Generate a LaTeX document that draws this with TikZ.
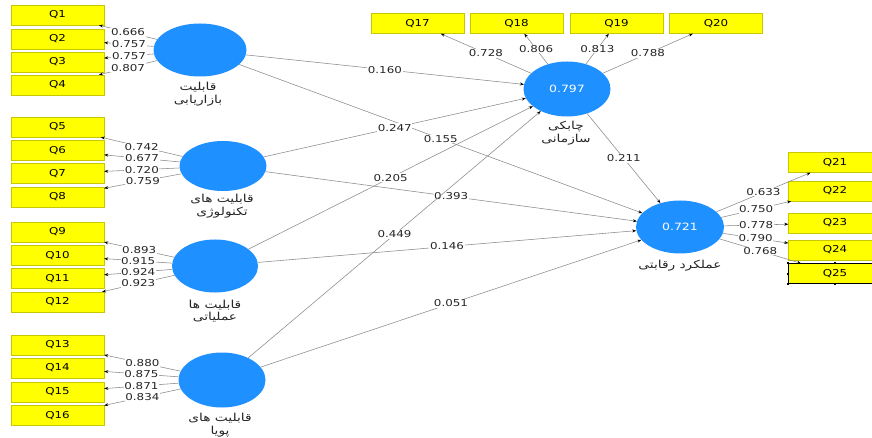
\documentclass[tikz,border=0pt]{standalone}
\usepackage{fontspec}
\usetikzlibrary{shapes.geometric,arrows.meta}
\TeXXeTstate=1
\newfontfamily\labfont[FakeStretch=1.25]{DejaVu Sans}
\newfontfamily\arabicfont[Script=Arabic,FakeStretch=1.25]{DejaVu Sans}
\definecolor{qyellow}{HTML}{FFFF00}
\definecolor{qborder}{HTML}{C8C800}
\definecolor{lvblue}{HTML}{1E90FF}
\definecolor{linegray}{HTML}{8A8A8A}
\begin{document}
\begin{tikzpicture}[x=1pt,y=-1pt,
  qbox/.style={rectangle, fill=qyellow, draw=qborder, line width=0.4pt,
    minimum width=93pt, minimum height=20pt, inner sep=0pt,
    font=\labfont\fontsize{9.5}{11}\selectfont},
  lv/.style={ellipse, fill=lvblue, draw=none, inner sep=0pt, text=white,
    font=\labfont\fontsize{10}{12}\selectfont},
  lab/.style={fill=white, inner sep=0.6pt, text=black!85,
    font=\labfont\fontsize{9.5}{11}\selectfont},
  lvlab/.style={align=center, text=black!85, inner sep=0pt,
    font=\arabicfont\fontsize{11}{12.5}\selectfont},
  conn/.style={draw=linegray, line width=0.55pt,
    -{Stealth[length=4pt,width=3pt,black]}},
  handle/.style={fill=black, draw=none, minimum size=2pt, inner sep=0pt, rectangle}]
\clip (0,0) rectangle (872,438);
\fill[white] (0,0) rectangle (872,438);

% latent variables
\node[lv, minimum width=93pt, minimum height=53pt] (c1) at (200,50) {};
\node[lv, minimum width=87pt, minimum height=50pt] (c2) at (223,166) {};
\node[lv, minimum width=86pt, minimum height=53pt] (c3) at (215,266) {};
\node[lv, minimum width=87pt, minimum height=55pt] (c4) at (222,380) {};
\node[lv, minimum width=87pt, minimum height=55pt] (ch) at (567,89) {0.797};
\node[lv, minimum width=88pt, minimum height=53pt] (pf) at (680,227) {0.721};

% latent labels
\node[lvlab] (t1) at (198,94) {\beginR قابلیت\endR\\\beginR بازاریابی\endR};
\node[lvlab] (t2) at (222,206) {\beginR قابلیت های\endR\\\beginR تکنولوژی\endR};
\node[lvlab] (t3) at (215,311) {\beginR قابلیت ها\endR\\\beginR عملیاتی\endR};
\node[lvlab] (t4) at (220,425) {\beginR قابلیت های\endR\\\beginR پویا\endR};
\node[lvlab] (t5) at (566,133) {\beginR چابکی\endR\\\beginR سازمانی\endR};
\node[lvlab] (t6) at (680,266) {\beginR عملکرد رقابتی\endR};

% indicator boxes left
\node[qbox] (q1) at (57.5,15) {Q1};
\node[qbox] (q2) at (57.5,39) {Q2};
\node[qbox] (q3) at (57.5,62) {Q3};
\node[qbox] (q4) at (57.5,85) {Q4};
\node[qbox] (q5) at (57.5,127) {Q5};
\node[qbox] (q6) at (57.5,150.5) {Q6};
\node[qbox] (q7) at (57.5,173.5) {Q7};
\node[qbox] (q8) at (57.5,197) {Q8};
\node[qbox] (q9) at (57.5,232) {Q9};
\node[qbox] (q10) at (57.5,255.5) {Q10};
\node[qbox] (q11) at (57.5,278.5) {Q11};
\node[qbox] (q12) at (57.5,302) {Q12};
\node[qbox] (q13) at (57.5,345) {Q13};
\node[qbox] (q14) at (57.5,368) {Q14};
\node[qbox] (q15) at (57.5,392) {Q15};
\node[qbox] (q16) at (57.5,415.5) {Q16};
% top
\node[qbox] (q17) at (417.5,23.5) {Q17};
\node[qbox] (q18) at (516.5,23.5) {Q18};
\node[qbox] (q19) at (616.5,23.5) {Q19};
\node[qbox] (q20) at (716,23.5) {Q20};
% right
\node[qbox] (q21) at (835,162.5) {Q21};
\node[qbox] (q22) at (835,191) {Q22};
\node[qbox] (q23) at (835,223) {Q23};
\node[qbox] (q24) at (835,250) {Q24};
\node[qbox, draw=black] (q25) at (835,273.5) {Q25};
\foreach \a in {north west,north,west,south west,south,north east,east,south east}
  \node[handle] at (q25.\a) {};

% loadings
\draw[conn] (c1) -- node[lab]{0.666} (q1);
\draw[conn] (c1) -- node[lab]{0.757} (q2);
\draw[conn] (c1) -- node[lab]{0.757} (q3);
\draw[conn] (c1) -- node[lab]{0.807} (q4);
\draw[conn] (c2) -- node[lab]{0.742} (q5);
\draw[conn] (c2) -- node[lab]{0.677} (q6);
\draw[conn] (c2) -- node[lab]{0.720} (q7);
\draw[conn] (c2) -- node[lab]{0.759} (q8);
\draw[conn] (c3) -- node[lab]{0.893} (q9);
\draw[conn] (c3) -- node[lab]{0.915} (q10);
\draw[conn] (c3) -- node[lab]{0.924} (q11);
\draw[conn] (c3) -- node[lab]{0.923} (q12);
\draw[conn] (c4) -- node[lab]{0.880} (q13);
\draw[conn] (c4) -- node[lab]{0.875} (q14);
\draw[conn] (c4) -- node[lab]{0.871} (q15);
\draw[conn] (c4) -- node[lab]{0.834} (q16);
\draw[conn] (ch) -- node[lab]{0.728} (q17);
\draw[conn] (ch) -- node[lab]{0.806} (q18);
\draw[conn] (ch) -- node[lab]{0.813} (q19);
\draw[conn] (ch) -- node[lab]{0.788} (q20);
\draw[conn] (pf) -- node[lab]{0.633} (q21);
\draw[conn] (pf) -- node[lab]{0.750} (q22);
\draw[conn] (pf) -- node[lab]{0.778} (q23);
\draw[conn] (pf) -- node[lab]{0.790} (q24);
\draw[conn] (pf) -- node[lab]{0.768} (q25);

% structural paths
\draw[conn] (c1) -- node[lab]{0.160} (ch);
\draw[conn] (c1) -- node[lab]{0.155} (pf);
\draw[conn] (c2) -- node[lab]{0.247} (ch);
\draw[conn] (c2) -- node[lab]{0.393} (pf);
\draw[conn] (c3) -- node[lab]{0.205} (ch);
\draw[conn] (c3) -- node[lab]{0.146} (pf);
\draw[conn] (c4) -- node[lab]{0.449} (ch);
\draw[conn] (c4) -- node[lab]{0.051} (pf);
\draw[conn] (ch) -- node[lab]{0.211} (pf);
\end{tikzpicture}
\end{document}
